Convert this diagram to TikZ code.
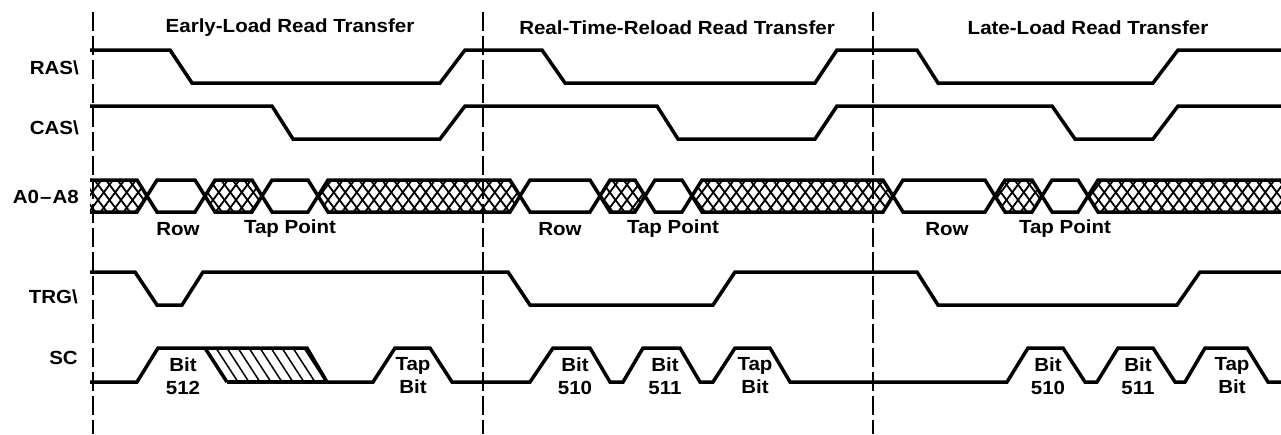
\documentclass[tikz,border=0pt]{standalone}
\usepackage{fontspec}
\setmainfont{Liberation Sans}[FakeStretch=1.08]
\begin{document}
\begin{tikzpicture}[x=1pt,y=-1pt,
  wave/.style={line width=3.5pt, line join=miter},
  dline/.style={line width=1.4pt, dash pattern=on 19pt off 5pt},
  hatchln/.style={line width=1.8pt},
  lbl/.style={font=\fontsize{19}{23}\selectfont\bfseries, inner sep=0pt, align=center},
  sig/.style={lbl, anchor=east}]
\useasboundingbox (0,0) rectangle (1281,434);
% section separators
\foreach \x/\n in {93/d1,483/d2,873/d3}{
  \coordinate (\n t) at (\x,12);
  \coordinate (\n b) at (\x,434);
  \draw[dline] (\n t) -- (\n b);
}
% titles
\node[lbl] (t1) at (290,28) {Early-Load Read Transfer};
\node[lbl] (t2) at (677,28) {Real-Time-Reload Read Transfer};
\node[lbl] (t3) at (1088,28) {Late-Load Read Transfer};
% signal names
\node[sig] (nras) at (79,68) {RAS\textbackslash};
\node[sig] (ncas) at (79,128) {CAS\textbackslash};
\node[sig] (na) at (79,197) {A0\kern1pt--\kern1pt A8};
\node[sig] (ntrg) at (78,297) {TRG\textbackslash};
\node[sig] (nsc) at (78,358) {SC};
% RAS
\draw[wave] (90,50) -- (170,50) -- (192,83) -- (440,83) -- (465,50) -- (542,50) -- (565,83) -- (815,83) -- (837,50) -- (917,50) -- (938,83) -- (1153,83) -- (1178,50) -- (1281,50);
% CAS
\draw[wave] (90,106) -- (272,106) -- (293,139) -- (440,139) -- (465,106) -- (657,106) -- (678,139) -- (815,139) -- (837,106) -- (1052,106) -- (1075,139) -- (1153,139) -- (1178,106) -- (1281,106);
% A0-A8 crosshatch
\begin{scope}
\clip (90,180) -- (137,180) -- (147,196) -- (137,212) -- (90,212) -- cycle
      (205,196) -- (215,180) -- (252,180) -- (262,196) -- (252,212) -- (215,212) -- cycle
      (318,196) -- (328,180) -- (510,180) -- (520,196) -- (510,212) -- (328,212) -- cycle
      (600,196) -- (610,180) -- (635,180) -- (645,196) -- (635,212) -- (610,212) -- cycle
      (692,196) -- (702,180) -- (883,180) -- (893,196) -- (883,212) -- (702,212) -- cycle
      (995,196) -- (1005,180) -- (1032,180) -- (1042,196) -- (1032,212) -- (1005,212) -- cycle
      (1088,196) -- (1098,180) -- (1281,180) -- (1281,212) -- (1098,212) -- cycle;
\foreach \k in {0,...,106}{
  \draw[hatchln] ({60+11.5*\k},180) -- ++(24,32);
  \draw[hatchln] ({90+11.5*\k},180) -- ++(-24,32);
}
\end{scope}
\draw[wave] (90,180) -- (137,180) -- (157,212) -- (195,212) -- (215,180) -- (252,180) -- (272,212) -- (308,212) -- (328,180) -- (510,180) -- (530,212) -- (590,212) -- (610,180) -- (635,180) -- (655,212) -- (682,212) -- (702,180) -- (883,180) -- (903,212) -- (985,212) -- (1005,180) -- (1032,180) -- (1052,212) -- (1078,212) -- (1098,180) -- (1281,180);
\draw[wave] (90,212) -- (137,212) -- (157,180) -- (195,180) -- (215,212) -- (252,212) -- (272,180) -- (308,180) -- (328,212) -- (510,212) -- (530,180) -- (590,180) -- (610,212) -- (635,212) -- (655,180) -- (682,180) -- (702,212) -- (883,212) -- (903,180) -- (985,180) -- (1005,212) -- (1032,212) -- (1052,180) -- (1078,180) -- (1098,212) -- (1281,212);
\node[lbl] (row1) at (178,229) {Row};
\node[lbl] (tap1) at (290,229) {Tap Point};
\node[lbl] (row2) at (560,229) {Row};
\node[lbl] (tap2) at (673,229) {Tap Point};
\node[lbl] (row3) at (947,229) {Row};
\node[lbl] (tap3) at (1065,229) {Tap Point};
% TRG
\draw[wave] (90,272) -- (135,272) -- (157,305) -- (182,305) -- (203,272) -- (508,272) -- (530,305) -- (713,305) -- (735,272) -- (917,272) -- (938,305) -- (1177,305) -- (1200,272) -- (1281,272);
% SC hatched region
\begin{scope}
\clip (205,348) -- (307,348) -- (327,382) -- (227,382) -- cycle;
\foreach \k in {0,...,10}{
  \draw[line width=1.5pt] ({205+11*\k},348) -- ++(22,34);
}
\end{scope}
\draw[wave] (205,348) -- (227,382);
\draw[wave] (90,382) -- (137,382) -- (158,348) -- (307,348) -- (327,382) -- (373,382) -- (395,348) -- (430,348) -- (452,382) -- (530,382) -- (553,348) -- (590,348) -- (610,382) -- (623,382) -- (643,348) -- (680,348) -- (700,382) -- (713,382) -- (735,348) -- (770,348) -- (790,382) -- (1007,382) -- (1028,348) -- (1063,348) -- (1085,382) -- (1097,382) -- (1118,348) -- (1153,348) -- (1175,382) -- (1185,382) -- (1205,348) -- (1247,348) -- (1268,382) -- (1281,382);
\draw[wave] (227,382) -- (327,382);
\node[lbl] (b1) at (183,376) {Bit\\512};
\node[lbl] (tb1) at (413,376) {Tap\\Bit};
\node[lbl] (b2) at (575,376) {Bit\\510};
\node[lbl] (b3) at (665,376) {Bit\\511};
\node[lbl] (tb2) at (755,376) {Tap\\Bit};
\node[lbl] (b4) at (1048,376) {Bit\\510};
\node[lbl] (b5) at (1138,376) {Bit\\511};
\node[lbl] (tb3) at (1232,376) {Tap\\Bit};
\end{tikzpicture}
\end{document}
